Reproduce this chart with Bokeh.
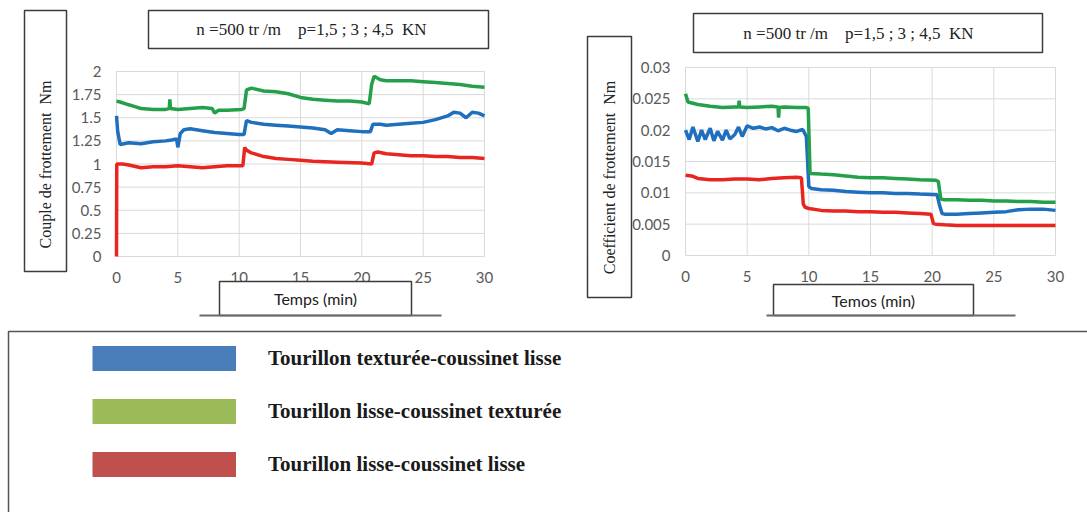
from bokeh.plotting import figure
from bokeh.models import Range1d, BoxAnnotation, Label, Legend, LegendItem
from bokeh.core.properties import value
from bokeh.embed import file_html
from bokeh.resources import INLINE

# ---------------- data ----------------
# Left chart: friction torque (Nm) vs time (min)
gc_t = [0, 0.3, 1, 1.5, 2, 3, 4, 4.3, 4.35, 4.4, 5, 6, 7, 7.8, 8.0, 8.3, 9, 10.2, 10.4, 10.6,
        11, 12, 13, 14, 15, 16, 17, 18, 19, 20, 20.6, 20.8, 21.0, 21.5, 22, 23, 24, 25, 26,
        27, 28, 29, 30]
gc_v = [1.68, 1.67, 1.64, 1.62, 1.60, 1.59, 1.59, 1.60, 1.70, 1.60, 1.59, 1.60, 1.61, 1.60,
        1.55, 1.58, 1.58, 1.59, 1.60, 1.80, 1.82, 1.79, 1.78, 1.76, 1.72, 1.70, 1.69, 1.68,
        1.68, 1.67, 1.65, 1.86, 1.95, 1.91, 1.90, 1.90, 1.90, 1.89, 1.88, 1.87, 1.86, 1.84, 1.83]

bc_t = [0, 0.1, 0.3, 1, 2, 3, 4, 4.5, 4.9, 5.0, 5.2, 5.5, 6, 7, 8, 9, 10, 10.4, 10.6, 11, 12,
        13, 14, 15, 16, 17, 17.5, 18, 19, 20, 20.7, 20.9, 21.5, 22, 23, 24, 25, 26, 27, 27.5,
        28, 28.5, 29, 29.5, 30]
bc_v = [1.52, 1.35, 1.21, 1.23, 1.22, 1.24, 1.25, 1.26, 1.27, 1.18, 1.33, 1.37, 1.38, 1.36,
        1.34, 1.33, 1.32, 1.32, 1.47, 1.45, 1.43, 1.42, 1.41, 1.40, 1.39, 1.37, 1.33, 1.37,
        1.36, 1.35, 1.35, 1.43, 1.43, 1.42, 1.43, 1.44, 1.45, 1.48, 1.52, 1.56, 1.55, 1.50,
        1.56, 1.55, 1.52]

rc_t = [0, 0.02, 0.5, 1, 2, 3, 4, 5, 6, 7, 8, 9, 10.3, 10.45, 10.6, 11, 12, 13, 14, 15, 16,
        18, 20, 20.8, 21.0, 21.3, 22, 23, 24, 25, 26, 27, 28, 29, 30]
rc_v = [0.0, 1.0, 1.0, 0.99, 0.96, 0.97, 0.97, 0.98, 0.97, 0.96, 0.97, 0.98, 0.98, 1.18, 1.15,
        1.12, 1.08, 1.06, 1.05, 1.04, 1.03, 1.02, 1.01, 1.00, 1.12, 1.13, 1.11, 1.10, 1.09,
        1.09, 1.08, 1.08, 1.07, 1.07, 1.06]

# Right chart: friction coefficient vs time (min)
gf_t = [0, 0.2, 1, 2, 3, 4, 4.3, 4.35, 4.4, 5, 6, 7, 7.5, 7.55, 7.6, 8, 9, 9.8, 9.95, 10.1,
        11, 12, 13, 14, 15, 16, 17, 18, 19, 20.3, 20.5, 20.7, 21, 22, 23, 24, 25, 26, 27, 28,
        29, 30]
gf_v = [0.0258, 0.0245, 0.0241, 0.0238, 0.0236, 0.0237, 0.0237, 0.0247, 0.0237, 0.0236,
        0.0237, 0.0238, 0.0237, 0.0220, 0.0236, 0.0237, 0.0236, 0.0236, 0.0235, 0.0131,
        0.0130, 0.0129, 0.0127, 0.0125, 0.0124, 0.0124, 0.0123, 0.0122, 0.0121, 0.0120,
        0.0118, 0.0090, 0.0089, 0.0089, 0.0088, 0.0088, 0.0087, 0.0087, 0.0086, 0.0086,
        0.0085, 0.0085]

bf_t = [0, 0.3, 0.6, 1, 1.3, 1.6, 2, 2.3, 2.6, 3, 3.3, 3.6, 4, 4.3, 4.6, 5, 5.5, 6, 6.5, 7,
        7.5, 8, 8.5, 9, 9.5, 9.8, 10.0, 10.2, 11, 12, 13, 14, 15, 16, 17, 18, 19, 20.4, 20.6,
        20.8, 21, 22, 23, 24, 25, 26, 27, 28, 29, 30]
bf_v = [0.0200, 0.0185, 0.0205, 0.0182, 0.0200, 0.0185, 0.0203, 0.0183, 0.0198, 0.0184,
        0.0200, 0.0186, 0.0193, 0.0205, 0.0190, 0.0207, 0.0203, 0.0205, 0.0202, 0.0204,
        0.0199, 0.0203, 0.0200, 0.0198, 0.0201, 0.0190, 0.0110, 0.0107, 0.0105, 0.0104,
        0.0102, 0.0101, 0.0100, 0.0100, 0.0099, 0.0099, 0.0098, 0.0097, 0.0080, 0.0067,
        0.0066, 0.0066, 0.0067, 0.0068, 0.0069, 0.0070, 0.0073, 0.0074, 0.0074, 0.0072]

rf_t = [0, 0.5, 1, 2, 3, 4, 5, 6, 7, 8, 9, 9.4, 9.55, 9.7, 10, 11, 12, 13, 14, 15, 16, 17,
        18, 19, 19.9, 20.1, 20.3, 21, 22, 23, 24, 25, 26, 27, 28, 29, 30]
rf_v = [0.0128, 0.0127, 0.0123, 0.0121, 0.0121, 0.0122, 0.0122, 0.0121, 0.0123, 0.0124,
        0.0125, 0.0124, 0.0082, 0.0077, 0.0075, 0.0072, 0.0071, 0.0071, 0.0070, 0.0070,
        0.0069, 0.0069, 0.0068, 0.0067, 0.0066, 0.0051, 0.0050, 0.0049, 0.0048, 0.0048,
        0.0048, 0.0048, 0.0048, 0.0048, 0.0048, 0.0048, 0.0048]

x_ticks = [0, 5, 10, 15, 20, 25, 30]
x_tick_labels = ["0", "5", "10", "15", "20", "25", "30"]
couple_ticks = [0, 0.25, 0.5, 0.75, 1, 1.25, 1.5, 1.75, 2]
couple_tick_labels = ["0", "0.25", "0.5", "0.75", "1", "1.25", "1.5", "1.75", "2"]
coef_ticks = [0, 0.005, 0.01, 0.015, 0.02, 0.025, 0.03]
coef_tick_labels = ["0", "0.005", "0.01", "0.015", "0.02", "0.025", "0.03"]

NB = "\u00a0"
title_text = "n =500 tr /m" + NB * 3 + " p=1,5 ; 3 ; 4,5" + NB + " KN"
left_ylabel = "Couple de frottement" + NB + " Nm"
right_ylabel = "Coefficient de frottement" + NB + " Nm"
left_xlabel = "Temps (min)"
right_xlabel = "Temos (min)"
legend_labels = ["Tourillon texturée-coussinet lisse",
                 "Tourillon lisse-coussinet texturée",
                 "Tourillon lisse-coussinet lisse"]

# ---------------- styles / layout ----------------
W, H = 1087, 512
BLUE, GREEN, RED = "#1f6fbf", "#23a049", "#e8261f"
SW_BLUE, SW_GREEN, SW_RED = "#4a7ebb", "#9bbb59", "#c0504d"
GRID = "#d9d9d9"
BOXLINE = "#3c3c3c"
TICKCOL = "#595959"
SERIF = "Liberation Serif"
SANS = "Lato"

# plot-area frames in page pixels: (left, right, top, bottom)
LEFT_FRAME = (116, 484, 71, 256)
RIGHT_FRAME = (685, 1055, 67, 255)


def lin_range(a_px, va, b_px, vb, total):
    k = (b_px - a_px) / (vb - va)
    return Range1d(va - a_px / k, va + (total - a_px) / k)


p = figure(width=W, height=H, x_range=Range1d(0, W), y_range=Range1d(H, 0),
           x_axis_type=None, y_axis_type=None, min_border=0, outline_line_color=None,
           toolbar_location=None, output_backend="svg",
           background_fill_color="white", border_fill_color="white")


def add_chart(name, frame, yticks, ylabels, series):
    l, r, t, b = frame
    xr, yr = name + "x", name + "y"
    p.extra_x_ranges[xr] = lin_range(l, x_ticks[0], r, x_ticks[-1], W)
    p.extra_y_ranges[yr] = lin_range(H - b, yticks[0], H - t, yticks[-1], H)
    kw = dict(x_range_name=xr, y_range_name=yr)
    ny, nx = len(yticks), len(x_ticks)
    # grid lines (also form the plot-area border)
    p.segment(x0=[x_ticks[0]] * ny, x1=[x_ticks[-1]] * ny, y0=yticks, y1=yticks,
              line_color=GRID, line_width=1, **kw)
    p.segment(x0=x_ticks, x1=x_ticks, y0=[yticks[0]] * nx, y1=[yticks[-1]] * nx,
              line_color=GRID, line_width=1, **kw)
    # tick labels
    p.text(x=[x_ticks[0]] * ny, y=yticks, text=ylabels, x_offset=-15,
           text_align="right", text_baseline="middle", text_font=value(SANS),
           text_font_size=value("15px"), text_color=TICKCOL, **kw)
    p.text(x=x_ticks, y=[yticks[0]] * nx, text=x_tick_labels, y_offset=21,
           text_align="center", text_baseline="middle", text_font=value(SANS),
           text_font_size=value("15px"), text_color=TICKCOL, **kw)
    # series
    for tt, vv, c in series:
        p.line(tt, vv, line_color=c, line_width=3.5, **kw)


add_chart("l", LEFT_FRAME, couple_ticks, couple_tick_labels,
          [(bc_t, bc_v, BLUE), (gc_t, gc_v, GREEN), (rc_t, rc_v, RED)])
add_chart("r", RIGHT_FRAME, coef_ticks, coef_tick_labels,
          [(bf_t, bf_v, BLUE), (gf_t, gf_v, GREEN), (rf_t, rf_v, RED)])

# ---------------- framed text boxes (page pixel coordinates) ----------------
boxes = [
    (148, 488, 10, 48), (24, 66, 10, 271), (219, 411, 281, 315),      # left chart
    (693, 1042, 13, 52), (587, 631, 36, 297), (773, 973, 284, 315),   # right chart
]
for (l, r, t, b) in boxes:
    p.add_layout(BoxAnnotation(left=l, right=r, top=t, bottom=b, fill_color="white",
                               fill_alpha=1.0, line_color=BOXLINE, line_alpha=1.0,
                               line_width=1.5))
for (l, r, yy) in [(199, 441, 315), (766, 1015, 315)]:
    p.add_layout(BoxAnnotation(left=l, right=r, top=yy - 1, bottom=yy + 1,
                               fill_color="#6a6a6a", fill_alpha=1.0, line_color=None))
# legend panel border
p.add_layout(BoxAnnotation(left=8, right=W + 50, top=331, bottom=H + 50, fill_alpha=0,
                           line_color="#555555", line_alpha=1.0, line_width=1.5))

texts = [
    (title_text, 311, 29, SERIF, "17px", 0),
    (left_ylabel, 45, 164, SERIF, "16px", 90),
    (left_xlabel, 315, 298, SANS, "16px", 0),
    (title_text, 858, 33, SERIF, "17px", 0),
    (right_ylabel, 609, 177, SERIF, "16px", 90),
    (right_xlabel, 873, 300, SANS, "16px", 0),
]
for (txt, x, y, font, size, ang) in texts:
    p.add_layout(Label(x=x, y=y, text=txt, text_align="center", text_baseline="middle",
                       text_font=font, text_font_size=size, text_color="#222222",
                       angle=ang, angle_units="deg"))

# ---------------- legend ----------------
items = []
for lab, col in zip(legend_labels, [SW_BLUE, SW_GREEN, SW_RED]):
    rr = p.line(x=[float("nan")], y=[float("nan")], line_color=col, line_width=25)
    items.append(LegendItem(label=lab, renderers=[rr]))
legend = Legend(items=items, location=(92, 35), orientation="vertical",
                glyph_width=144, glyph_height=26, label_height=26, label_standoff=32,
                spacing=27, padding=0, margin=0, border_line_color=None,
                background_fill_alpha=0, label_text_font=SERIF,
                label_text_font_style="bold", label_text_font_size="21px",
                label_text_color="#1a1a1a")
p.add_layout(legend)

open("out.html", "w").write(file_html(p, INLINE))
